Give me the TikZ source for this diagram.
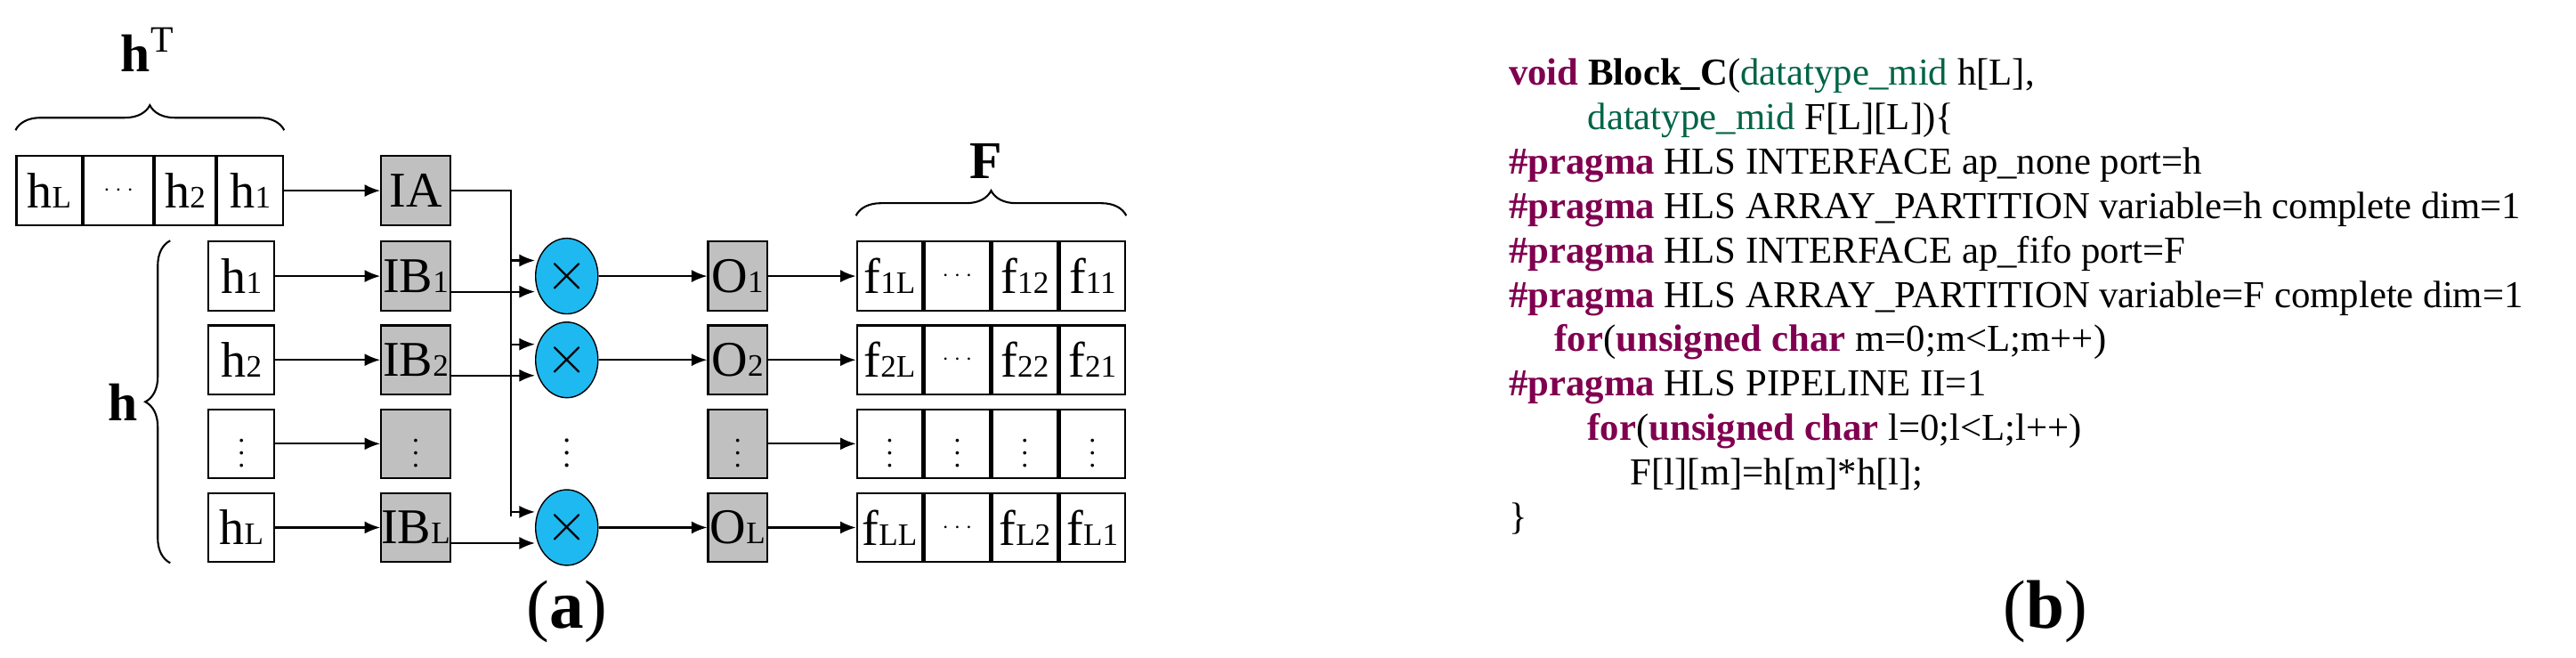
\documentclass[tikz,border=0pt]{standalone}
\usepackage{fontspec}
\setmainfont{Liberation Serif}
\usetikzlibrary{arrows.meta,decorations.pathreplacing,shapes.geometric}
\newcommand\subs[1]{{\fontsize{10}{10}\selectfont #1}}
\definecolor{kw}{RGB}{128,0,80}
\definecolor{ty}{RGB}{0,100,70}
\definecolor{gbox}{RGB}{192,192,192}
\definecolor{mulc}{RGB}{30,185,240}
\begin{document}
\begin{tikzpicture}[x=0.0185cm,y=-0.0185cm,
  cell/.style={draw,line width=0.6pt,minimum width=40*0.0185cm,minimum height=42*0.0185cm,inner sep=0pt,font=\fontsize{16}{16}\selectfont},
  wcell/.style={cell,fill=white},
  gcell/.style={cell,fill=gbox,minimum width=42*0.0185cm},
  mul/.style={draw,ellipse,fill=mulc,minimum width=38*0.0185cm,minimum height=46*0.0185cm,inner sep=0pt,font=\fontsize{16}{16}\selectfont\sffamily},
  arr/.style={-{Latex[length=5pt,width=4pt]},line width=0.6pt},
  ln/.style={line width=0.6pt},
  br/.style={decorate,decoration={brace,amplitude=8pt},line width=0.6pt},
  code/.style={anchor=base west,inner sep=0pt,font=\fontsize{12.2}{12.2}\selectfont}]
\useasboundingbox (0,0) rectangle (1568,400);
% top array
\node[wcell,minimum width=40*0.0185cm] (t1) at (30,116) {h\subs{L}};
\node[wcell,minimum width=42*0.0185cm,anchor=west] (t2) at (t1.east) {\fontsize{7}{7}\selectfont$\cdots$};
\node[wcell,minimum width=37*0.0185cm,anchor=west] (t3) at (t2.east) {h\subs{2}};
\node[wcell,minimum width=40*0.0185cm,anchor=west] (t4) at (t3.east) {h\subs{1}};
\draw[br] ([yshift=8pt]t1.north west) -- ([yshift=8pt]t4.north east);
\node[font=\fontsize{17}{17}\selectfont] (hT) at (90,30) {$\mathbf{h}^{\mathrm{T}}$};
\node[gcell] (IA) at (253,116) {IA};
\draw[arr] (t4.east) -- (IA.west);
% rows
\foreach \i/\y/\hl/\ib/\ol/\fa/\fb/\fc in {1/168/h\subs{1}/IB\subs{1}/O\subs{1}/f\subs{1L}/f\subs{12}/f\subs{11},2/219/h\subs{2}/IB\subs{2}/O\subs{2}/f\subs{2L}/f\subs{22}/f\subs{21},L/321/h\subs{L}/IB\subs{L}/O\subs{L}/f\subs{LL}/f\subs{L2}/f\subs{L1}}{
  \node[wcell] (h\i) at (147,\y) {\hl};
  \node[gcell] (IB\i) at (253,\y) {\ib};
  \node[mul] (M\i) at (345,\y) {$\times$};
  \node[gcell,minimum width=36*0.0185cm] (O\i) at (449,\y) {\ol};
  \node[wcell,anchor=west] (F\i a) at (521,\y) {\fa};
  \node[wcell,anchor=west] (F\i b) at (F\i a.east) {\fontsize{7}{7}\selectfont$\cdots$};
  \node[wcell,anchor=west] (F\i c) at (F\i b.east) {\fb};
  \node[wcell,anchor=west] (F\i d) at (F\i c.east) {\fc};
  \draw[arr] (h\i) -- (IB\i);
  \draw[arr] ([yshift=-5pt]IB\i.east) -- ([yshift=-5pt]IB\i.east -| M\i.west);
  \draw[arr] (M\i) -- (O\i);
  \draw[arr] (O\i) -- (F\i a);
}
\node[font=\fontsize{10}{10}\selectfont] (vd) at (345,270) {$\vdots$};
% dots row
\newcommand\vd{\fontsize{9}{9}\selectfont$\vdots$}
\node[wcell] (hd) at (147,270) {\vd};
\node[gcell] (IBd) at (253,270) {\vd};
\node[gcell,minimum width=36*0.0185cm] (Od) at (449,270) {\vd};
\node[wcell,anchor=west] (Fda) at (521,270) {\vd};
\node[wcell,anchor=west] (Fdb) at (Fda.east) {\vd};
\node[wcell,anchor=west] (Fdc) at (Fdb.east) {\vd};
\node[wcell,anchor=west] (Fdd) at (Fdc.east) {\vd};
\draw[arr] (hd) -- (IBd);
\draw[arr] (Od) -- (Fda);
% IA bus
\coordinate (bus) at (311,116);
\draw[ln] (IA.east) -- (bus) -- (311,314);
\foreach \i in {1,2,L}{
  \draw[arr] ([yshift=5pt]M\i.west -| bus) -- ([yshift=5pt]M\i.west);
}
% braces
\draw[br] ([yshift=8pt]F1a.north west) -- ([yshift=8pt]F1d.north east);
\node[font=\bfseries\fontsize{17}{17}\selectfont] (Fl) at (600,98) {F};
\draw[br] ([xshift=-12pt]hL.south west) -- ([xshift=-12pt]h1.north west);
\node[font=\fontsize{17}{17}\selectfont] (hl) at (75,245) {$\mathbf{h}$};
\node[font=\fontsize{22}{22}\selectfont] (la) at (345,372) {(\textbf{a})};
\node[font=\fontsize{22}{22}\selectfont] (lb) at (1245,372) {(\textbf{b})};
% code
\node[code] (c1) at (918,52) {\textcolor{kw}{\textbf{void}} \textbf{Block\_C}(\textcolor{ty}{datatype\_mid} h[L],};
\node[code] (c2) at (966,79) {\textcolor{ty}{datatype\_mid} F[L][L])\{};
\node[code] (c3) at (918,106) {\textcolor{kw}{\textbf{\#pragma}} HLS INTERFACE ap\_none port=h};
\node[code] (c4) at (918,133) {\textcolor{kw}{\textbf{\#pragma}} HLS ARRAY\_PARTITION variable=h complete dim=1};
\node[code] (c5) at (918,160) {\textcolor{kw}{\textbf{\#pragma}} HLS INTERFACE ap\_fifo port=F};
\node[code] (c6) at (918,187) {\textcolor{kw}{\textbf{\#pragma}} HLS ARRAY\_PARTITION variable=F complete dim=1};
\node[code] (c7) at (946,214) {\textcolor{kw}{\textbf{for}}(\textcolor{kw}{\textbf{unsigned char}} m=0;m<L;m++)};
\node[code] (c8) at (918,241) {\textcolor{kw}{\textbf{\#pragma}} HLS PIPELINE II=1};
\node[code] (c9) at (966,268) {\textcolor{kw}{\textbf{for}}(\textcolor{kw}{\textbf{unsigned char}} l=0;l<L;l++)};
\node[code] (c10) at (992,295) {F[l][m]=h[m]*h[l];};
\node[code] (c11) at (918,322) {\}};
\end{tikzpicture}
\end{document}
